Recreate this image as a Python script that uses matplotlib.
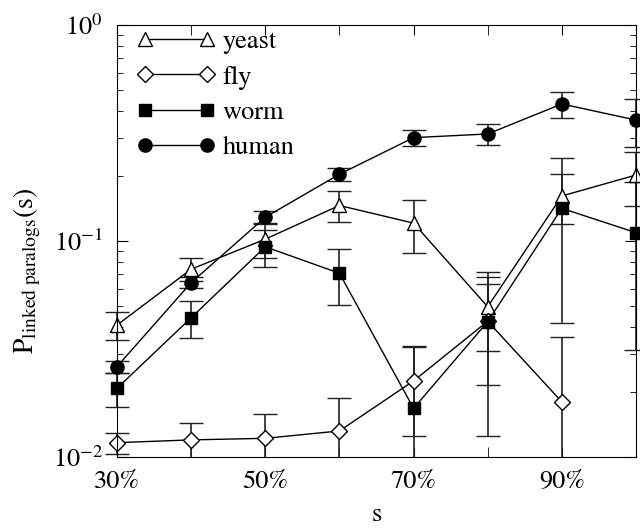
import numpy as np
import matplotlib
matplotlib.use('Agg')
import matplotlib.pyplot as plt
from matplotlib.patches import Rectangle

plt.rcParams['font.family'] = ['STIXGeneral', 'DejaVu Serif']
plt.rcParams['mathtext.fontset'] = 'stix'

# similarity threshold s (%)
s = [30, 40, 50, 60, 70, 80, 90, 100]
s_fly = [30, 40, 50, 60, 70, 80, 90]

yeast = [0.0408, 0.074, 0.102, 0.146, 0.121, 0.0496, 0.1616, 0.202]
yeast_err = [0.006, 0.009, 0.019, 0.024, 0.033, 0.0185, 0.042, 0.057]

fly = [0.01165, 0.0120, 0.0122, 0.0132, 0.0225, 0.0425, 0.018]
fly_err = [0.0013, 0.0024, 0.0036, 0.0055, 0.0100, 0.021, 0.0178]

worm = [0.0208, 0.0441, 0.094, 0.0709, 0.0168, 0.0423, 0.1416, 0.1093]
worm_err = [0.0037, 0.0086, 0.018, 0.0205, 0.0156, 0.0298, 0.100, 0.078]

human = [0.0262, 0.0641, 0.1288, 0.2037, 0.301, 0.313, 0.431, 0.363]
human_err = [0.0016, 0.0038, 0.0085, 0.0145, 0.025, 0.036, 0.06, 0.09]

labels = ['yeast', 'fly', 'worm', 'human']

fig = plt.figure(figsize=(6.4, 5.32), dpi=100)
ax = fig.add_axes((0.1828, 0.141, 0.8109, 0.812))
ax.set_yscale('log')

# clip a bit past the left/right spines so end points show like the original
clip = Rectangle((-0.05, 0), 1.11, 1, transform=ax.transAxes)

series = [
    (s, yeast, yeast_err, '^', 'white', 9.5),
    (s_fly, fly, fly_err, 'D', 'white', 8.5),
    (s, worm, worm_err, 's', 'k', 9),
    (s, human, human_err, 'o', 'k', 9.5),
]
handles = []
for x, y, e, m, fc, ms in series:
    eb = ax.errorbar(x, y, yerr=e, fmt='-', color='k', lw=1.0, marker=m,
                     mfc=fc, mec='k', mew=1.0, ms=ms, capsize=8.5,
                     elinewidth=1.2, capthick=1.2, ecolor='#222222')
    for art in [eb.lines[0]] + list(eb.lines[1]) + list(eb.lines[2]):
        art.set_clip_path(clip)
    handles.append(eb.lines[0])

ax.set_xlim(30, 100)
ax.set_ylim(0.01, 1)
ax.set_xticks([30, 50, 70, 90])
ax.set_xticklabels(['30%', '50%', '70%', '90%'])
ax.set_xticks([40, 60, 80, 100], minor=True)
ax.tick_params(which='both', direction='in', top=True, right=True, labelsize=19)
ax.tick_params(axis='x', which='both', length=7, pad=9)
ax.tick_params(axis='y', which='major', length=8, pad=10)
ax.tick_params(axis='y', which='minor', length=4)

ax.set_xlabel('s', fontsize=19, labelpad=7)
ax.set_ylabel(r'$\mathrm{P}_{\mathrm{linked\ paralogs}}\mathrm{(s)}$', fontsize=20)
ax.yaxis.set_label_coords(-0.142, 0.43)

ax.legend(handles, labels, loc='upper left', bbox_to_anchor=(0.018, 1.013),
          frameon=False, numpoints=2, handlelength=2.95, handletextpad=0.3,
          labelspacing=0.41, borderaxespad=0, fontsize=19)

fig.savefig('out.png', dpi=100)
